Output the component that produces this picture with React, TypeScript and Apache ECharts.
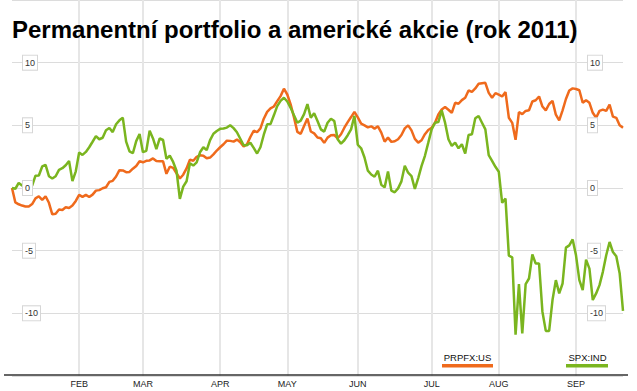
import React, { useEffect, useRef } from 'react';
import * as echarts from 'echarts';

const TITLE = 'Permanentní portfolio a americké akcie (rok 2011)';
const SERIES_NAMES = ['PRPFX:US', 'SPX:IND'];
const FIRST_DAY = '2011-01-03';
const HOLIDAYS = ['2011-01-17', '2011-02-21', '2011-04-22', '2011-05-30', '2011-07-04', '2011-09-05'];
const MONTH_LABELS = ['JAN', 'FEB', 'MAR', 'APR', 'MAY', 'JUN', 'JUL', 'AUG', 'SEP', 'OCT', 'NOV', 'DEC'];
const Y_MIN = -15;
const Y_MAX = 15;
const Y_STEP = 5;

// % change since 3 Jan 2011, one value per trading day
const PRPFX = [
  0, -1.15, -1.3, -1.4, -1.48, -1.48, -1.28, -0.83, -0.66, -0.94,
  -0.66, -1.18, -2.1, -2.05, -1.72, -1.75, -1.53, -1.59, -1.4, -1.03,
  -0.55, -0.71, -0.55, -0.72, -0.53, -0.21, -0.17, -0.02, 0.06, 0.49,
  0.57, 0.92, 1.42, 1.4, 1.26, 1.28, 1.54, 1.76, 2.14, 2.05,
  2.17, 2.2, 2.36, 2.15, 2.14, 2.13, 1.13, 1.7, 1.6, 1.18,
  0.76, 1.06, 1.56, 2.26, 2.17, 2.49, 2.61, 2.58, 2.37, 2.43,
  2.68, 2.99, 3.25, 3.49, 3.78, 3.76, 3.7, 3.86, 3.66, 3.31,
  3.49, 4.07, 4.57, 4.45, 4.76, 5.53, 6.07, 6.35, 6.5, 6.93,
  7.33, 7.92, 7.46, 6.67, 5.63, 4.48, 4.32, 4.95, 5.55, 4.51,
  4.36, 4.03, 3.97, 3.6, 4.02, 4.21, 4.23, 3.97, 4.29, 4.81,
  5.26, 5.66, 6.08, 5.63, 5.13, 5.0, 4.84, 4.92, 4.74, 4.92,
  4.42, 3.7, 4.02, 3.68, 3.73, 3.89, 4.23, 4.76, 5.0, 4.6,
  3.92, 3.62, 3.81, 4.29, 4.63, 4.81, 5.21, 5.87, 6.27, 6.46,
  6.24, 6.0, 6.8, 6.72, 7.01, 7.2, 7.78, 7.67, 7.94, 8.31,
  8.36, 8.39, 7.59, 7.2, 7.57, 7.45, 7.3, 7.65, 5.6, 5.2,
  3.85, 6.05, 5.9, 6.15, 6.2, 6.9, 7.0, 7.3, 6.5, 6.2,
  6.7, 6.95, 5.85, 5.4, 6.2, 7.1, 7.78, 7.95, 7.9, 7.8,
  6.8, 7.0, 6.8, 6.0, 5.6, 6.15, 6.25, 6.15, 6.65, 5.7,
  5.6, 5.0, 4.8,
];

const SPX = [
  0, -0.06, 0.4, 0.2, 0.05, 0.1, 0.2, 0.98, 1.0, 1.72,
  1.85, 0.94, 0.76, 0.94, 1.45, 1.58, 1.81, 2.15, 0.55, 1.33,
  2.83, 2.64, 2.88, 3.25, 3.69, 4.14, 3.89, 4.01, 4.61, 4.79,
  4.46, 5.09, 5.4, 5.61, 3.7, 2.92, 2.77, 3.74, 4.31, 2.86,
  2.96, 4.57, 3.95, 3.1, 3.95, 3.83, 2.33, 2.58, 2.08, 1.38,
  -0.87, 0.11, 0.54, 1.97, 1.79, 2.04, 2.85, 3.25, 3.02, 3.82,
  4.33, 4.55, 4.72, 4.75, 4.82, 5.01, 4.78, 4.45, 3.93, 3.41,
  3.42, 3.61, 3.2, 2.75, 3.25, 4.25, 5.08, 5.1, 5.8, 6.53,
  6.95, 7.2, 6.9, 6.4, 5.8, 5.21, 5.38, 5.9, 6.7, 5.6,
  5.96, 5.34, 4.68, 4.5, 5.21, 5.53, 5.34, 3.89, 3.54, 3.81,
  4.21, 4.68, 5.76, 3.45, 3.17, 2.43, 1.38, 1.08, 0.9, 1.38,
  0.26, 0.05, 1.32, -0.21, -0.34, -0.03, 0.53, 1.77, 1.22, 0.95,
  -0.08, 0.79, 1.77, 2.57, 3.62, 4.68, 5.21, 5.26, 6.19, 5.21,
  3.89, 3.36, 3.62, 3.17, 3.49, 2.75, 4.23, 4.29, 5.56, 5.74,
  5.21, 4.68, 2.62, 2.17, 1.69, 1.3, -1.18, -0.85, -5.4, -5.53,
  -11.7, -7.67, -11.6, -7.67, -7.22, -5.3, -6.03, -6.03, -9.87, -11.4,
  -11.4, -8.94, -7.35, -8.41, -7.62, -4.76, -4.58, -4.1, -5.37, -7.35,
  -8.15, -5.71, -6.43, -8.94, -8.41, -7.75, -6.69, -5.37, -4.31, -5.11,
  -5.45, -6.8, -9.8,
];

const COLORS = ['#ef6a1c', '#7ab51f'];
const FONT = "'Liberation Sans', Arial, sans-serif";

function buildTradingDays(count: number): string[] {
  const out: string[] = [];
  const d = new Date(FIRST_DAY + 'T00:00:00Z');
  while (out.length < count) {
    const iso = d.toISOString().slice(0, 10);
    const wd = d.getUTCDay();
    if (wd !== 0 && wd !== 6 && !HOLIDAYS.includes(iso)) out.push(iso);
    d.setUTCDate(d.getUTCDate() + 1);
  }
  return out;
}

export default function App() {
  const ref = useRef<HTMLDivElement>(null);

  useEffect(() => {
    if (!ref.current) return;
    const chart = echarts.init(ref.current, undefined, { renderer: 'svg' });
    const dates = buildTradingDays(PRPFX.length);
    const isMonthStart = (i: number) =>
      i > 0 && dates[i].slice(5, 7) !== dates[i - 1].slice(5, 7);

    const yBase = {
      type: 'value' as const,
      min: Y_MIN,
      max: Y_MAX,
      interval: Y_STEP,
      axisLine: { show: false },
      axisTick: { show: false },
    };
    const labelBox = {
      inside: true,
      showMinLabel: false,
      showMaxLabel: false,
      fontSize: 9,
      fontFamily: FONT,
      color: '#333',
      backgroundColor: '#fff',
      borderColor: '#d6d6d6',
      borderWidth: 1,
      padding: [2, 2, 2, 2],
      lineHeight: 10,
    };

    chart.setOption({
      animation: false,
      title: {
        text: TITLE,
        left: 12,
        top: 17,
        padding: 0,
        textStyle: { fontSize: 24, fontWeight: 'bold', fontFamily: FONT, color: '#000' },
      },
      grid: { left: 12, right: 14, top: -2, bottom: 15, containLabel: false },
      xAxis: {
        type: 'category',
        data: dates,
        boundaryGap: false,
        axisLine: { show: false },
        axisTick: { show: false },
        axisLabel: {
          interval: (i: number) => isMonthStart(i),
          formatter: (v: string) => MONTH_LABELS[Number(v.slice(5, 7)) - 1],
          fontSize: 9,
          fontFamily: FONT,
          color: '#222',
          margin: 3,
        },
        splitLine: {
          show: true,
          interval: (i: number) => isMonthStart(i),
          lineStyle: { color: '#e6e6e6', width: 2 },
        },
      },
      yAxis: [
        {
          ...yBase,
          position: 'left',
          axisLabel: { show: false },
          splitLine: { show: true, lineStyle: { color: '#dcdcdc', width: 1 } },
          z: 0,
        },
        {
          ...yBase,
          position: 'left',
          axisLabel: { ...labelBox, margin: 11 },
          splitLine: { show: false },
          z: 10,
        },
        {
          ...yBase,
          position: 'right',
          axisLabel: { ...labelBox, margin: 35, align: 'left' },
          splitLine: { show: false },
          z: 10,
        },
      ],
      series: [
        {
          name: SERIES_NAMES[0],
          type: 'line',
          data: PRPFX,
          yAxisIndex: 0,
          symbol: 'none',
          lineStyle: { color: COLORS[0], width: 2.5 },
          z: 3,
        },
        {
          name: SERIES_NAMES[1],
          type: 'line',
          data: SPX,
          yAxisIndex: 0,
          symbol: 'none',
          lineStyle: { color: COLORS[1], width: 2.5 },
          z: 4,
        },
      ],
      graphic: [
        {
          type: 'line',
          shape: { x1: 4, y1: 375, x2: 628, y2: 375 },
          style: { stroke: '#333', lineWidth: 1.5 },
          z: 20,
        },
        {
          type: 'text',
          x: 467.5,
          y: 357,
          style: {
            text: SERIES_NAMES[0],
            font: `9.5px ${FONT}`,
            fill: '#111',
            align: 'center',
            verticalAlign: 'middle',
            textAlign: 'center',
            textVerticalAlign: 'middle',
          },
          z: 20,
        },
        {
          type: 'rect',
          shape: { x: 442, y: 364, width: 51, height: 3.5 },
          style: { fill: COLORS[0] },
          z: 20,
        },
        {
          type: 'text',
          x: 587.5,
          y: 357,
          style: {
            text: SERIES_NAMES[1],
            font: `9.5px ${FONT}`,
            fill: '#111',
            align: 'center',
            verticalAlign: 'middle',
            textAlign: 'center',
            textVerticalAlign: 'middle',
          },
          z: 20,
        },
        {
          type: 'rect',
          shape: { x: 566, y: 364, width: 42, height: 3.5 },
          style: { fill: COLORS[1] },
          z: 20,
        },
      ],
    });

    return () => chart.dispose();
  }, []);

  return (
    <div
      ref={ref}
      style={{ position: 'absolute', left: 0, top: 0, width: 637, height: 391, background: '#fff' }}
    />
  );
}
